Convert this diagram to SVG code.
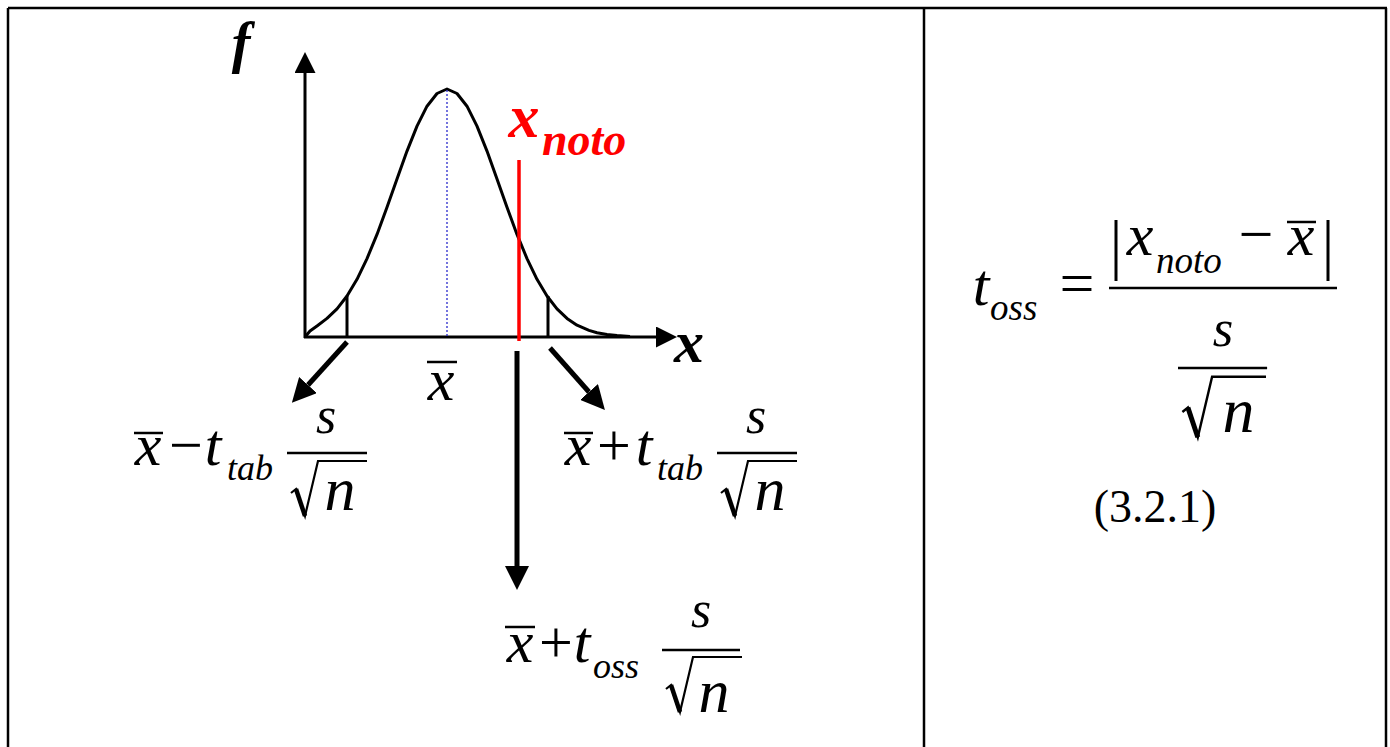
<svg xmlns="http://www.w3.org/2000/svg" width="1390" height="747" viewBox="0 0 1390 747">
<style>
.mi{font-family:"Liberation Serif","Times New Roman",serif;font-style:italic;fill:#000}
.mr{font-family:"Liberation Serif","Times New Roman",serif;fill:#000}
.bi{font-family:"Liberation Serif","Times New Roman",serif;font-style:italic;font-weight:bold}
.ln{stroke:#000;fill:none}
.c{text-anchor:middle}
</style>
<defs>
<marker id="ah" viewBox="0 0 10 10" refX="0" refY="5" markerWidth="24" markerHeight="24" markerUnits="userSpaceOnUse" orient="auto"><path d="M0,0 L10,5 L0,10 z" fill="#000"/></marker>
<marker id="ax" viewBox="0 0 10 10" refX="0" refY="5" markerWidth="21" markerHeight="21" markerUnits="userSpaceOnUse" orient="auto"><path d="M0,0 L10,5 L0,10 z" fill="#000"/></marker>
<g id="rad"><path d="M4,40 L9,36 L18,63 L31,8 L80,8" class="ln" stroke-width="2.2" stroke-linejoin="miter"/><path d="M9,36 L18,63" class="ln" stroke-width="4.5"/></g>
</defs>
<rect width="1390" height="747" fill="#fff"/>
<g id="table" class="ln" stroke-width="2.5">
<line x1="8" y1="8" x2="1387" y2="8"/>
<line x1="8" y1="8" x2="8" y2="747"/>
<line x1="924" y1="8" x2="924" y2="747"/>
<line x1="1386" y1="8" x2="1386" y2="747"/>
</g>
<g id="axes">
<line x1="305" y1="338" x2="305" y2="73" class="ln" stroke-width="3" marker-end="url(#ax)"/>
<line x1="304" y1="337" x2="656" y2="337" class="ln" stroke-width="3" marker-end="url(#ax)"/>
<text x="241" y="62" class="bi c" font-size="56">f</text>
<text x="689" y="362" class="bi c" font-size="60">x</text>
</g>
<g id="curve">
<polyline class="ln" stroke-width="3" stroke-linejoin="round" points="305,337 310,331 317,326 327,318.4 337,308.9 347,296 357,279.3 367,258.6 377,234.4 387,207.3 397,178.9 407,151.1 417,126.1 427,106.2 437,93.5 447,89 457,93.5 467,106.2 477,126.1 487,151.1 497,178.9 507,207.3 517,234.4 527,258.6 537,279.3 547,296 557,308.9 567,318.4 577,325.2 589,330.4 597,332.7 607,334.5 617,335.6 630,336.5"/>
<line x1="347" y1="296" x2="347" y2="337" class="ln" stroke-width="3"/>
<line x1="548" y1="296" x2="548" y2="337" class="ln" stroke-width="3"/>
<line x1="447" y1="90" x2="447" y2="336" stroke="#2a2acc" stroke-width="1.3" stroke-dasharray="2,2"/>
</g>
<g id="xnoto">
<line x1="519" y1="160" x2="519" y2="341" stroke="#ff0000" stroke-width="3.5"/>
<text x="524" y="137" class="bi c" font-size="62" fill="#ff0000">x</text>
<text x="542" y="155" class="bi" font-size="46" fill="#ff0000">noto</text>
</g>
<g id="xbar-label">
<text x="441" y="400" class="mi c" font-size="60">x</text>
<line x1="427" y1="362" x2="457" y2="362" class="ln" stroke-width="2.5"/>
</g>
<g id="connectors">
<line x1="347" y1="342" x2="308" y2="385" class="ln" stroke-width="5" marker-end="url(#ah)"/>
<line x1="550" y1="348" x2="589" y2="392" class="ln" stroke-width="5" marker-end="url(#ah)"/>
<line x1="517" y1="351" x2="517" y2="566" class="ln" stroke-width="5" marker-end="url(#ah)"/>
</g>
<g id="formula-left">
<text x="148" y="465" class="mi c" font-size="60">x</text>
<line x1="134" y1="433" x2="163" y2="433" class="ln" stroke-width="2.5"/>
<text x="186" y="465" class="mr c" font-size="60">−</text>
<text x="213" y="465" class="mi c" font-size="60">t</text>
<text x="227" y="480" class="mi" font-size="36">tab</text>
<g transform="translate(287,453)">
<line x1="0" y1="0" x2="80" y2="0" class="ln" stroke-width="2.5"/>
<text x="39" y="-20" class="mi c" font-size="52">s</text>
<use href="#rad"/>
<text x="53" y="57" class="mi c" font-size="62">n</text>
</g>
</g>
<g id="formula-right">
<text x="578" y="465" class="mi c" font-size="60">x</text>
<line x1="564" y1="433" x2="593" y2="433" class="ln" stroke-width="2.5"/>
<text x="614" y="465" class="mr c" font-size="60">+</text>
<text x="644" y="465" class="mi c" font-size="60">t</text>
<text x="657" y="480" class="mi" font-size="36">tab</text>
<g transform="translate(717,453)">
<line x1="0" y1="0" x2="80" y2="0" class="ln" stroke-width="2.5"/>
<text x="39" y="-20" class="mi c" font-size="52">s</text>
<use href="#rad"/>
<text x="53" y="57" class="mi c" font-size="62">n</text>
</g>
</g>
<g id="formula-bottom">
<text x="520" y="662" class="mi c" font-size="60">x</text>
<line x1="505" y1="627" x2="535" y2="627" class="ln" stroke-width="2.5"/>
<text x="556" y="662" class="mr c" font-size="60">+</text>
<text x="582" y="662" class="mi c" font-size="60">t</text>
<text x="593" y="678" class="mi" font-size="36">oss</text>
<g transform="translate(662,650)">
<line x1="0" y1="0" x2="78" y2="0" class="ln" stroke-width="2.5"/>
<text x="39" y="-23" class="mi c" font-size="52">s</text>
<g transform="translate(0,-1)"><use href="#rad"/></g>
<text x="52" y="62" class="mi c" font-size="62">n</text>
</g>
</g>
<g id="formula-toss">
<text x="981" y="305" class="mi c" font-size="60">t</text>
<text x="990" y="320" class="mi" font-size="37">oss</text>
<text x="1077" y="304" class="mr c" font-size="62">=</text>
<line x1="1109" y1="288" x2="1337" y2="288" class="ln" stroke-width="2.5"/>
<line x1="1116" y1="220" x2="1116" y2="281" class="ln" stroke-width="3"/>
<line x1="1328" y1="220" x2="1328" y2="281" class="ln" stroke-width="3"/>
<text x="1140" y="255" class="mi c" font-size="60">x</text>
<text x="1156" y="273" class="mi" font-size="37">noto</text>
<text x="1256" y="255" class="mr c" font-size="62">−</text>
<text x="1301" y="255" class="mi c" font-size="60">x</text>
<line x1="1287" y1="222" x2="1316" y2="222" class="ln" stroke-width="2.5"/>
<g transform="translate(1178,368) scale(1.1)">
<line x1="0" y1="0" x2="81" y2="0" class="ln" stroke-width="2.3"/>
<text x="41" y="-20" class="mi c" font-size="48">s</text>
<use href="#rad"/>
<text x="55" y="58" class="mi c" font-size="58">n</text>
</g>
<text x="1155" y="522" class="mr c" font-size="46">(3.2.1)</text>
</g>
</svg>
